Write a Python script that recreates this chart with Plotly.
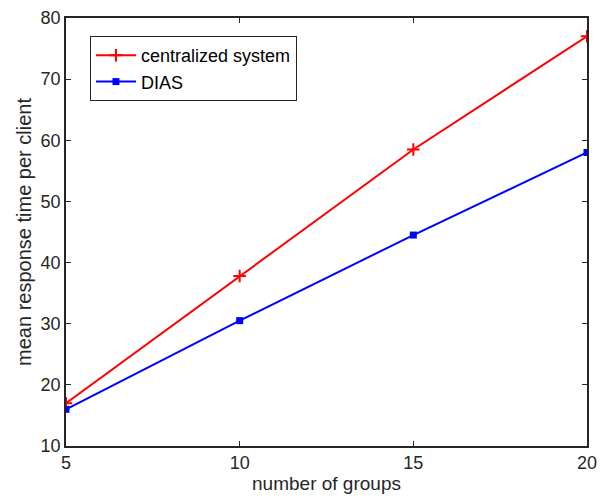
import plotly.graph_objects as go

groups = [5, 10, 15, 20]
centralized = [17.0, 37.8, 58.5, 77.0]
dias = [16.0, 30.5, 44.5, 58.0]
x_ticks = [5, 10, 15, 20]
y_ticks = [10, 20, 30, 40, 50, 60, 70, 80]

FONT = "Liberation Sans, Arial"
fig = go.Figure()
fig.add_trace(go.Scatter(x=groups, y=centralized, mode="lines+markers", name="centralized system",
                         line=dict(color="#ff0000", width=2),
                         marker=dict(symbol="cross-thin", size=9, line=dict(color="#ff0000", width=2))))
fig.add_trace(go.Scatter(x=groups, y=dias, mode="lines+markers", name="DIAS",
                         line=dict(color="#0000ff", width=2),
                         marker=dict(symbol="square", size=7, color="#0000ff")))

axis_common = dict(showgrid=False, zeroline=False, showline=True, linecolor="#262626", linewidth=1.5,
                   mirror="ticks", ticks="inside", ticklen=5, tickcolor="#262626", automargin=False,
                   tickfont=dict(family=FONT, size=18, color="#262626"))
fig.update_xaxes(range=[5, 20], tickvals=x_ticks,
                 title=dict(text="number of groups", font=dict(family=FONT, size=19, color="#262626"), standoff=4),
                 **axis_common)
fig.update_yaxes(range=[10, 80], tickvals=y_ticks,
                 title=dict(text="mean response time per client", font=dict(family=FONT, size=20, color="#262626"), standoff=4),
                 **axis_common)
fig.update_layout(
    width=601, height=490,
    plot_bgcolor="white", paper_bgcolor="white",
    margin=dict(l=58, r=22, t=10, b=52),
    legend=dict(x=0.046, y=0.958, xanchor="left", yanchor="top",
                bordercolor="#262626", borderwidth=1, bgcolor="white",
                font=dict(family=FONT, size=18, color="#000000"),
                itemwidth=40, tracegroupgap=0),
    showlegend=True,
)
fig.write_html("out.html")
